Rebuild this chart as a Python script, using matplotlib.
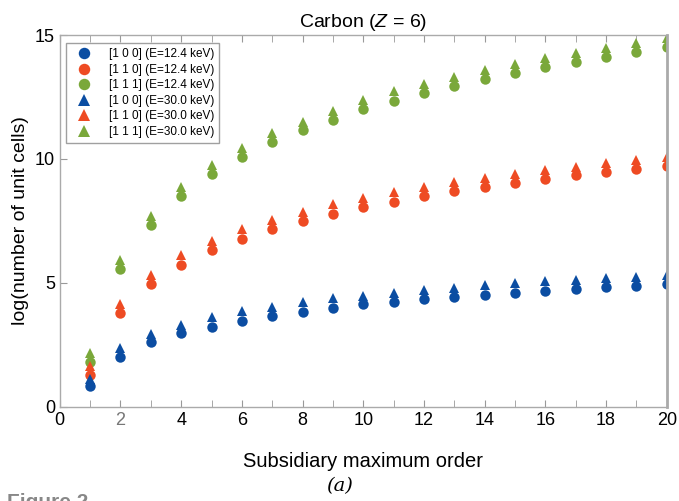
import numpy as np
import matplotlib.pyplot as plt

plt.rcParams["font.family"] = ["Liberation Sans", "DejaVu Sans"]
plt.rcParams["mathtext.fontset"] = "custom"
plt.rcParams["mathtext.it"] = "Liberation Sans:italic"
plt.rcParams["mathtext.rm"] = "Liberation Sans"

orders = list(range(1, 21))

# [1 0 0], [1 1 0], [1 1 1] at E = 12.4 keV (circles)
c100_124 = [0.85, 2.02, 2.60, 2.97, 3.24, 3.48, 3.68, 3.84, 3.98, 4.14,
            4.23, 4.34, 4.43, 4.53, 4.61, 4.69, 4.76, 4.83, 4.89, 4.96]
c110_124 = [1.29, 3.79, 4.95, 5.74, 6.33, 6.79, 7.16, 7.50, 7.80, 8.05,
            8.28, 8.51, 8.70, 8.88, 9.04, 9.19, 9.34, 9.48, 9.61, 9.73]
c111_124 = [1.80, 5.58, 7.34, 8.52, 9.38, 10.08, 10.67, 11.17, 11.57, 12.00,
            12.34, 12.66, 12.96, 13.21, 13.45, 13.70, 13.91, 14.11, 14.31, 14.50]

# same directions at E = 30.0 keV (triangles)
c100_300 = [1.12, 2.37, 2.94, 3.31, 3.62, 3.87, 4.04, 4.22, 4.38, 4.49,
            4.60, 4.72, 4.81, 4.91, 4.99, 5.07, 5.13, 5.20, 5.25, 5.31]
c110_300 = [1.63, 4.15, 5.32, 6.12, 6.69, 7.16, 7.54, 7.88, 8.17, 8.44,
            8.66, 8.88, 9.06, 9.23, 9.40, 9.54, 9.69, 9.82, 9.96, 10.08]
c111_300 = [2.16, 5.93, 7.70, 8.88, 9.76, 10.46, 11.04, 11.50, 11.95, 12.38,
            12.73, 13.04, 13.32, 13.59, 13.83, 14.07, 14.29, 14.49, 14.68, 14.87]

series = [
    (c100_124, "[1 0 0] (E=12.4 keV)", "o"),
    (c110_124, "[1 1 0] (E=12.4 keV)", "o"),
    (c111_124, "[1 1 1] (E=12.4 keV)", "o"),
    (c100_300, "[1 0 0] (E=30.0 keV)", "^"),
    (c110_300, "[1 1 0] (E=30.0 keV)", "^"),
    (c111_300, "[1 1 1] (E=30.0 keV)", "^"),
]
colors = ["#0B4DA2", "#EE4B23", "#7AA83A"] * 2

fig = plt.figure(figsize=(6.79, 5.01), dpi=100)
ax = fig.add_axes([0.088, 0.188, 0.894, 0.742])

for (vals, lbl, mk), col in zip(series, colors):
    ax.plot(orders, vals, linestyle="none", marker=mk, color=col,
            markersize=7.5, markeredgewidth=0, label=lbl)

ax.set_xlim(0, 20)
ax.set_ylim(0, 15)
ax.set_xticks(range(0, 21, 2))
ax.set_xticks(range(0, 21), minor=True)
ax.set_yticks([0, 5, 10, 15])
ax.tick_params(axis="both", which="both", direction="in", color="#999999",
               labelsize=13, length=5, top=True, right=False)
ax.tick_params(axis="x", which="minor", length=5)
ax.tick_params(axis="x", pad=4)
ax.get_xticklabels()[1].set_color("#777777")
for s in ax.spines.values():
    s.set_color("#aaaaaa")
    s.set_linewidth(1.0)
ax.spines["right"].set_linewidth(2.0)

ax.set_title("Carbon ($Z$ = 6)", fontsize=14, pad=6)
ax.set_ylabel("log(number of unit cells)", fontsize=14)
ax.set_xlabel("Subsidiary maximum order", fontsize=14.5, labelpad=16)

leg = ax.legend(loc="upper left", fontsize=8.5, fancybox=False,
                edgecolor="#888888", borderpad=0.45, handletextpad=1.0,
                labelspacing=0.3, markerscale=1.1, handlelength=2.2,
                bbox_to_anchor=(0.0, 0.995))
leg.get_frame().set_linewidth(1.0)

fig.text(0.5, 0.012, "(a)", fontsize=14, style="italic", family="DejaVu Serif",
         ha="center", va="bottom")
fig.text(0.01, 0.016, "Figure 2", fontsize=15, fontweight="bold",
         color="#888888", ha="left", va="top")

fig.savefig("out.png", dpi=100)
